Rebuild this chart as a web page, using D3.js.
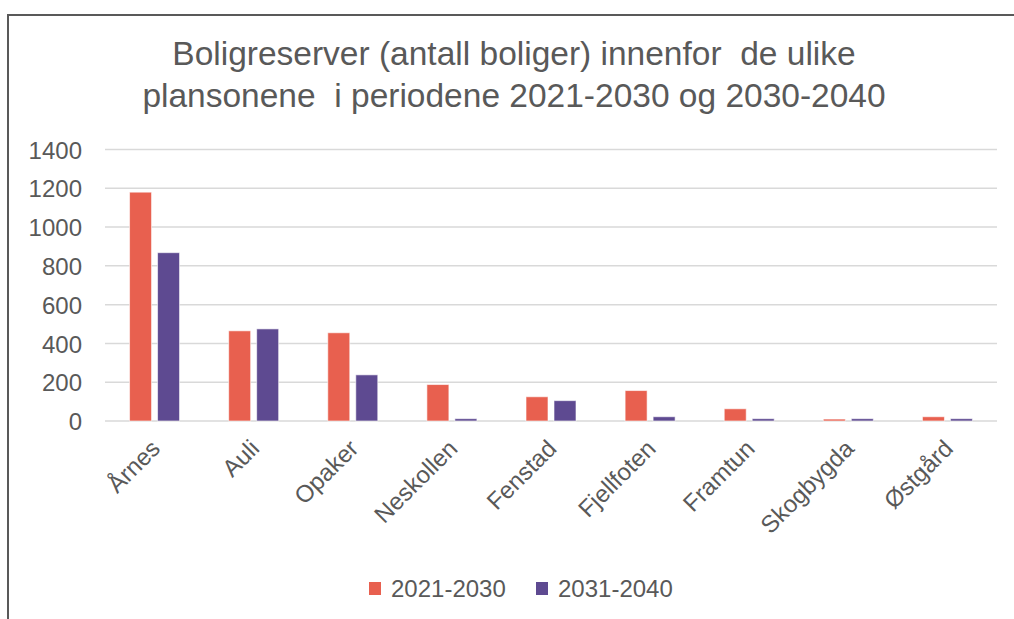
<!DOCTYPE html>
<html>
<head>
<meta charset="utf-8">
<script src="https://cdn.jsdelivr.net/npm/d3@7"></script>
<style>
  html, body { margin: 0; padding: 0; background: #fff; }
  svg { display: block; font-family: "Liberation Sans", Arial, sans-serif; }
</style>
</head>
<body>
<svg id="chart" width="1014" height="619"></svg>
<script>
const titleLines = ["Boligreserver (antall boliger) innenfor  de ulike", "plansonene  i periodene 2021-2030 og 2030-2040"];
const categories = ["Årnes", "Auli", "Opaker", "Neskollen", "Fenstad", "Fjellfoten", "Framtun", "Skogbygda", "Østgård"];
const seriesNames = ["2021-2030", "2031-2040"];
const values2021_2030 = [1180, 465, 455, 188, 125, 157, 63, 10, 22];
const values2031_2040 = [868, 475, 238, 12, 105, 22, 12, 12, 12];
const yTicks = [0, 200, 400, 600, 800, 1000, 1200, 1400];
const colors = ["#E8604F", "#5E4A91"];

const svg = d3.select("#chart");
const textColor = "#595959";

// frame
svg.append("path")
  .attr("d", "M8,619 L8,15 L1014,15")
  .attr("fill", "none").attr("stroke", "#595959").attr("stroke-width", 2);

// title
const title = svg.append("text")
  .attr("x", 514).attr("text-anchor", "middle")
  .attr("fill", textColor).attr("font-size", 33.5)
  .style("white-space", "pre");
titleLines.forEach((t, i) => {
  title.append("tspan").attr("x", 514).attr("y", 65 + i * 42).text(t);
});

const x0 = d3.scaleBand().domain(categories).range([105, 997]).padding(0);
const groupW = 50;
const x1 = d3.scaleBand().domain(seriesNames)
  .range([x0.bandwidth() / 2 - groupW / 2, x0.bandwidth() / 2 + groupW / 2])
  .paddingInner(6 / 28);
const y = d3.scaleLinear().domain([0, 1400]).range([421, 149.5]);

// y axis labels
const yAxis = d3.axisLeft(y).tickValues(yTicks).tickSize(0).tickPadding(0).tickFormat(d3.format("d"));
const gy = svg.append("g").attr("transform", "translate(82,0)").call(yAxis);
gy.select(".domain").remove();
gy.selectAll("text").attr("fill", textColor).attr("font-size", 24)
  .attr("font-family", "Liberation Sans, Arial, sans-serif").attr("dy", "0.36em");

// gridlines
svg.append("g").selectAll("line").data(yTicks).join("line")
  .attr("x1", 105).attr("x2", 997)
  .attr("y1", d => y(d)).attr("y2", d => y(d))
  .attr("stroke", "#d9d9d9").attr("stroke-width", 1.5);

const series = [values2021_2030, values2031_2040];
const groups = svg.append("g").selectAll("g").data(categories).join("g")
  .attr("transform", d => `translate(${x0(d)},0)`);
groups.selectAll("rect").data((d, i) => seriesNames.map((s, j) => ({ s, v: series[j][i], j })))
  .join("rect")
  .attr("x", d => x1(d.s)).attr("width", x1.bandwidth())
  .attr("y", d => y(d.v)).attr("height", d => y(0) - y(d.v))
  .attr("fill", d => colors[d.j])
  .attr("stroke", "#ffffff").attr("stroke-opacity", 0.6).attr("stroke-width", 1);

// category labels
const xAxis = d3.axisBottom(x0).tickSize(0).tickPadding(0);
const gx = svg.append("g").attr("transform", "translate(0,421)").call(xAxis);
gx.select(".domain").remove();
gx.selectAll("text")
  .attr("fill", textColor).attr("font-size", 24)
  .attr("font-family", "Liberation Sans, Arial, sans-serif")
  .attr("text-anchor", "end")
  .attr("dy", null).attr("y", null)
  .attr("transform", "translate(7,29) rotate(-45)");

// legend
const legendItems = [{ name: seriesNames[0], x: 369 }, { name: seriesNames[1], x: 536 }];
const lg = svg.append("g").selectAll("g").data(legendItems).join("g")
  .attr("transform", d => `translate(${d.x},0)`);
lg.append("rect").attr("x", 0).attr("y", 582).attr("width", 12).attr("height", 13)
  .attr("fill", (d, i) => colors[i]);
lg.append("text").attr("x", 22).attr("y", 588).attr("dy", "0.36em")
  .attr("fill", textColor).attr("font-size", 24).text(d => d.name);
</script>
</body>
</html>
